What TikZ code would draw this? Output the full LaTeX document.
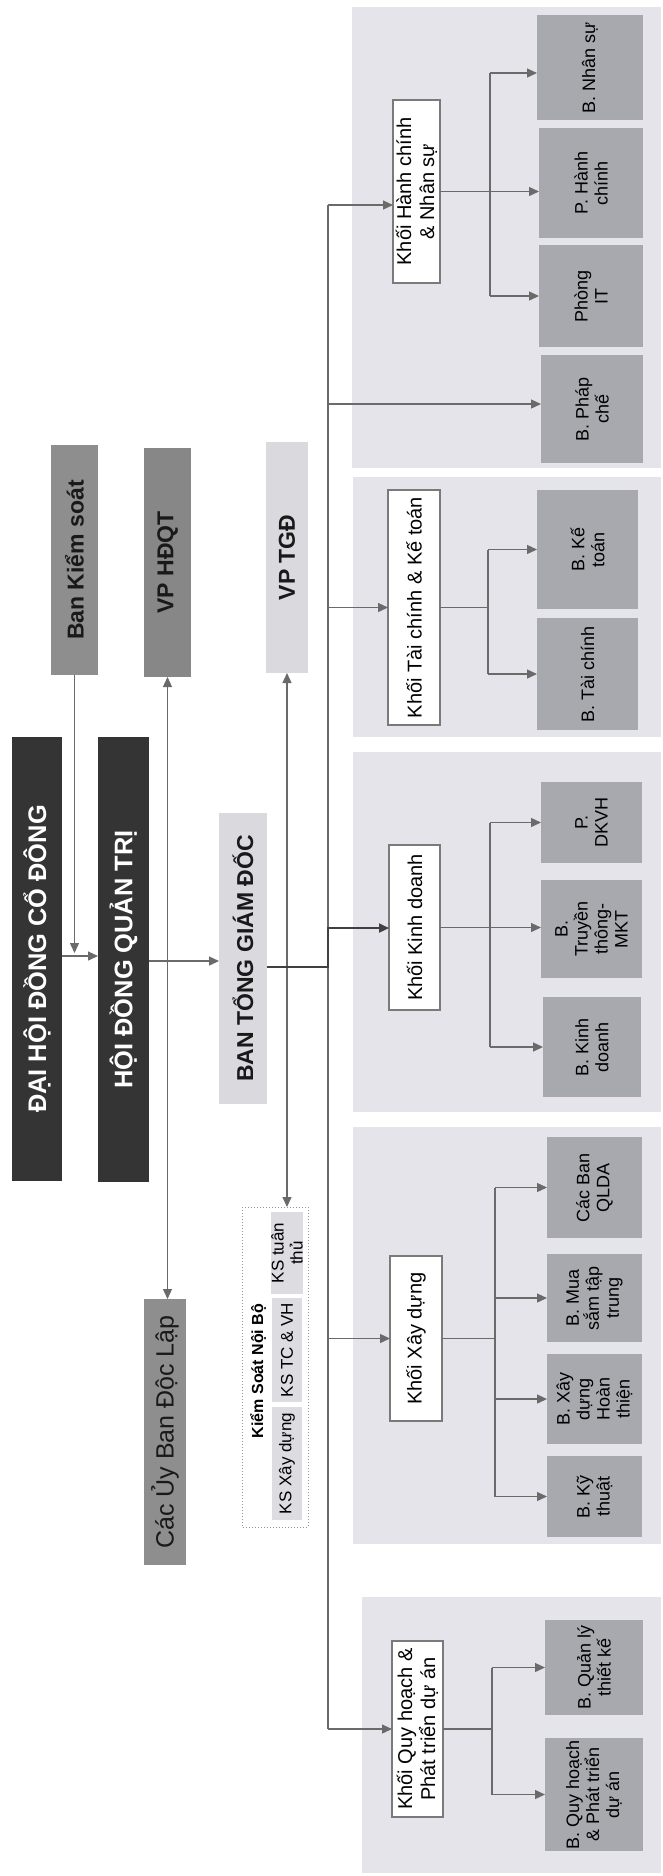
\documentclass[tikz,border=0pt]{standalone}
\usepackage{fontspec}
\setmainfont{Liberation Sans}
\usetikzlibrary{arrows.meta}
\definecolor{panel}{HTML}{E4E4EA}
\definecolor{child}{HTML}{A8A8AF}
\definecolor{darkb}{HTML}{343434}
\definecolor{midg}{HTML}{8E8E8E}
\definecolor{lite}{HTML}{D9D9DE}
\definecolor{inner}{HTML}{DCDCE1}
\definecolor{lnc}{HTML}{6A6A6A}
\definecolor{bord}{HTML}{7A7A7A}
% name, x1, y1, x2, y2 (image pixels, y downward), style, text
\newcommand\obox[7]{%
  \pgfmathsetmacro\obw{(#5-#3)*0.5}%
  \pgfmathsetmacro\obh{(#4-#2)*0.5}%
  \node[#6, rotate=90, minimum width=\obw pt, minimum height=\obh pt] (#1) at ({(#2+#4)/2},{(#3+#5)/2}) {#7};}
\begin{document}
\begin{tikzpicture}[x=0.5pt,y=-0.5pt,
  nb/.style={inner sep=0pt, outer sep=0pt, align=center, text=black},
  panelbox/.style={nb, fill=panel},
  childbox/.style={nb, fill=child, font=\fontsize{9}{10}\selectfont},
  khoibox/.style={nb, fill=white, draw=bord, line width=0.6pt, font=\fontsize{10}{11.5}\selectfont},
  darkbox/.style={nb, fill=darkb, text=white, font=\bfseries\fontsize{12.7}{14}\selectfont},
  midbox/.style={nb, fill=midg, text=black!90, font=\bfseries\fontsize{11.5}{14}\selectfont},
  litebox/.style={nb, fill=lite, text=black!90, font=\bfseries\fontsize{11.5}{14}\selectfont},
  ubbox/.style={nb, fill=midg, text=black!90, font=\fontsize{12.5}{14}\selectfont},
  ksbox/.style={nb, fill=white, draw=bord!80, densely dotted, line width=0.5pt},
  ksin/.style={nb, fill=inner, font=\fontsize{8.5}{9.5}\selectfont},
  ln/.style={draw=lnc, line width=0.65pt},
  arr/.style={ln, -{Triangle[length=5pt,width=4.5pt]}},
  arrb/.style={ln, {Triangle[length=5pt,width=4.5pt]}-{Triangle[length=5pt,width=4.5pt]}},
]
\useasboundingbox (0,0) rectangle (663,1876);
\fill[white] (0,0) rectangle (663,1876);
% panels
\obox{p1}{352}{7}{661}{468}{panelbox}{}
\obox{p2}{353}{477}{661}{737}{panelbox}{}
\obox{p3}{353}{752}{661}{1112}{panelbox}{}
\obox{p4}{353}{1127}{661}{1544}{panelbox}{}
\obox{p5}{362}{1597}{661}{1873}{panelbox}{}
% top level
\obox{dhdcd}{12}{737}{62}{1181}{darkbox}{ĐẠI HỘI ĐỒNG CỔ ĐÔNG}
\obox{hdqt}{98}{737}{149}{1182}{darkbox}{HỘI ĐỒNG QUẢN TRỊ}
\obox{bks}{51}{445}{98}{675}{midbox}{Ban Kiểm soát}
\obox{vphd}{144}{448}{191}{677}{midbox,fill=midg!95!black}{VP HĐQT}
\obox{vptgd}{266}{442}{308}{673}{litebox}{VP TGĐ}
\obox{btgd}{219}{813}{267}{1104}{litebox}{BAN TỔNG GIÁM ĐỐC}
\obox{ubdl}{144}{1299}{186}{1565}{ubbox}{Các Ủy Ban Độc Lập}
% Kiem soat noi bo
\obox{ksnb}{242}{1207}{308}{1527}{ksbox}{}
\node[nb, rotate=90, font=\bfseries\fontsize{8}{9}\selectfont] (kstitle) at (258,1371) {Kiểm Soát Nội Bộ};
\obox{kstt}{272}{1212}{302}{1294}{ksin}{KS tuân\\thủ}
\obox{kstc}{272}{1298}{302}{1402}{ksin}{KS TC \& VH}
\obox{ksxd}{272}{1407}{302}{1520}{ksin}{KS Xây dựng}
% khoi boxes
\obox{khc}{393}{100}{440}{283}{khoibox}{Khối Hành chính\\\& Nhân sự}
\obox{ktc}{388}{490}{440}{725}{khoibox}{Khối Tài chính \& Kế toán}
\obox{kkd}{389}{845}{440}{1010}{khoibox}{Khối Kinh doanh}
\obox{kxd}{390}{1256}{442}{1421}{khoibox}{Khối Xây dựng}
\obox{kqh}{392}{1641}{443}{1817}{khoibox}{Khối Quy hoạch \&\\Phát triển dự án}
% children
\obox{bns}{537}{15}{643}{120}{childbox}{B. Nhân sự}
\obox{phc}{539}{128}{643}{238}{childbox}{P. Hành\\chính}
\obox{pit}{539}{245}{643}{347}{childbox}{Phòng\\IT}
\obox{bpc}{541}{355}{643}{463}{childbox}{B. Pháp\\chế}
\obox{bkt}{537}{490}{638}{609}{childbox}{B. Kế\\toán}
\obox{btc}{537}{618}{638}{730}{childbox}{B. Tài chính}
\obox{pdk}{541}{782}{642}{863}{childbox}{P.\\DKVH}
\obox{btt}{541}{880}{642}{978}{childbox}{B.\\Truyền\\thông-\\MKT}
\obox{bkd}{543}{997}{641}{1097}{childbox}{B. Kinh\\doanh}
\obox{qlda}{547}{1137}{642}{1238}{childbox}{Các Ban\\QLDA}
\obox{bms}{547}{1254}{642}{1342}{childbox}{B. Mua\\sắm tập\\trung}
\obox{bht}{547}{1354}{642}{1444}{childbox}{B. Xây\\dựng\\Hoàn\\thiện}
\obox{bkth}{547}{1456}{642}{1537}{childbox}{B. Kỹ\\thuật}
\obox{bqltk}{545}{1620}{643}{1715}{childbox}{B. Quản lý\\thiết kế}
\obox{bqhpt}{545}{1738}{643}{1851}{childbox}{B. Quy hoạch\\\& Phát triển\\dự án}
% top connectors
\coordinate (c1) at (0,956);
\coordinate (c1b) at (0,953);
\coordinate (c2) at (0,961);
\draw[arr] (dhdcd.south |- c1) -- (hdqt.north |- c1);
\draw[arr] (bks.west) -- (bks.west |- c1b);
\draw[arr] (hdqt.south |- c2) -- (btgd.north |- c2);
\draw[arrb] (vphd.west) -- (vphd.west |- ubdl.east);
\draw[arrb] (vptgd.west) -- (vptgd.west |- ksnb.east);
% trunk
\coordinate (ttop) at (328,205);
\coordinate (tbot) at (328,1729);
\coordinate (tpc) at (328,404);
\coordinate (j1) at (328,967);
\coordinate (j2) at (328,928);
\draw[ln] (ttop) -- (tbot);
\draw[arr, line width=1.1pt, draw=black!75] (btgd.south |- j1) -- (j1) -- (j2) -- (kkd.north |- j2);
\draw[arr] (ttop) -- (khc.north |- ttop);
\draw[arr] (tpc) -- (bpc.north |- tpc);
\draw[arr] (ttop |- ktc) -- (ktc);
\draw[arr] (ttop |- kxd) -- (kxd);
\draw[arr] (tbot) -- (kqh);
% HC group
\coordinate (jhc) at (khc.south -| 490,0);
\coordinate (jns) at (490,73);
\draw[ln] (khc.south) -- (jhc);
\draw[ln] (jns) -- (jhc |- pit);
\draw[arr] (jns) -- (bns.north |- jns);
\draw[arr] (jhc) -- (phc.north |- jhc);
\draw[arr] (jhc |- pit) -- (pit);
% TC group
\coordinate (jtc) at (ktc.south -| 488,0);
\draw[ln] (ktc.south) -- (jtc);
\draw[ln] (jtc |- bkt) -- (jtc |- btc);
\draw[arr] (jtc |- bkt) -- (bkt);
\draw[arr] (jtc |- btc) -- (btc);
% KD group
\coordinate (jkd) at (kkd.south -| 490,0);
\draw[ln] (kkd.south) -- (jkd);
\draw[ln] (jkd |- pdk) -- (jkd |- bkd);
\draw[arr] (jkd |- pdk) -- (pdk);
\draw[arr] (jkd) -- (btt.north |- jkd);
\draw[arr] (jkd |- bkd) -- (bkd);
% XD group
\coordinate (jxd) at (kxd.south -| 495,0);
\draw[ln] (kxd.south) -- (jxd);
\draw[ln] (jxd |- qlda) -- (jxd |- bkth);
\draw[arr] (jxd |- qlda) -- (qlda);
\draw[arr] (jxd |- bms) -- (bms);
\draw[arr] (jxd |- bht) -- (bht);
\draw[arr] (jxd |- bkth) -- (bkth);
% QH group
\coordinate (jqh) at (kqh.south -| 492,0);
\draw[ln] (kqh.south) -- (jqh);
\draw[ln] (jqh |- bqltk) -- (jqh |- bqhpt);
\draw[arr] (jqh |- bqltk) -- (bqltk);
\draw[arr] (jqh |- bqhpt) -- (bqhpt);
\end{tikzpicture}
\end{document}
